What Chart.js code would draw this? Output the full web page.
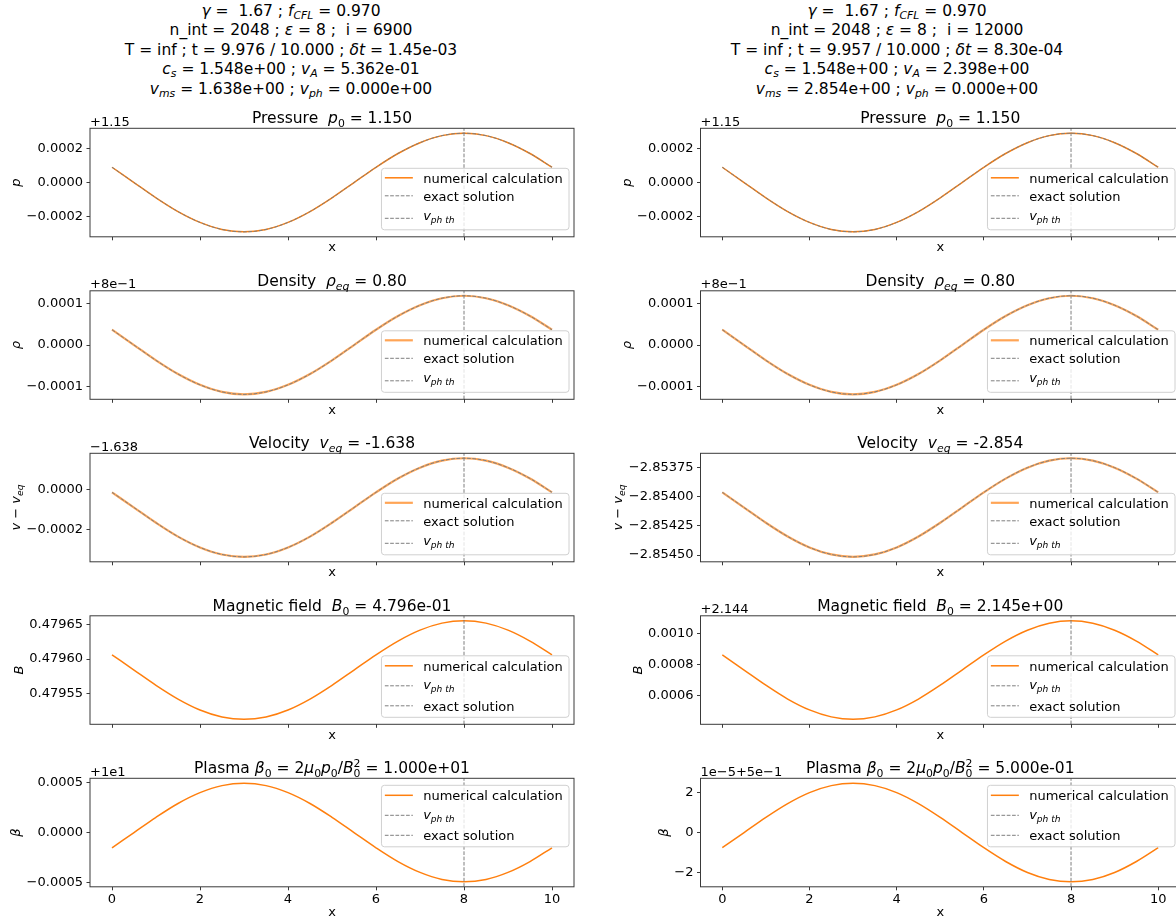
<!DOCTYPE html>
<html lang="en">
<head>
<meta charset="UTF-8">
<title>Linear wave test</title>
<script src="https://cdn.jsdelivr.net/npm/chart.js"></script>
<style>
  body { margin: 0; width: 1176px; height: 917px; overflow: hidden; position: relative; background: #fff; font-family: "DejaVu Sans", sans-serif; }
  .head { position: absolute; top: 2px; width: 600px; text-align: center; font-size: 15.5px; line-height: 19.4px; color: #000; white-space: pre; }
  .head sub { font-size: 70%; vertical-align: -0.28em; line-height: 0; }
  canvas { position: absolute; }
</style>
</head>
<body>
<div class="head" style="left:-9px"><i>γ</i> =  1.67 ; <i>f</i><sub><i>CFL</i></sub> = 0.970
n_int = 2048 ; <i>ε</i> = 8 ;  i = 6900
T = inf ; t = 9.976 / 10.000 ; <i>δt</i> = 1.45e-03
<i>c</i><sub><i>s</i></sub> = 1.548e+00 ; <i>v</i><sub><i>A</i></sub> = 5.362e-01
<i>v</i><sub><i>ms</i></sub> = 1.638e+00 ; <i>v</i><sub><i>ph</i></sub> = 0.000e+00</div>
<div class="head" style="left:597px"><i>γ</i> =  1.67 ; <i>f</i><sub><i>CFL</i></sub> = 0.970
n_int = 2048 ; <i>ε</i> = 8 ;  i = 12000
T = inf ; t = 9.957 / 10.000 ; <i>δt</i> = 8.30e-04
<i>c</i><sub><i>s</i></sub> = 1.548e+00 ; <i>v</i><sub><i>A</i></sub> = 2.398e+00
<i>v</i><sub><i>ms</i></sub> = 2.854e+00 ; <i>v</i><sub><i>ph</i></sub> = 0.000e+00</div>

<script>
// x samples and ticks
const xValues = [0, 0.5, 1, 1.5, 2, 2.5, 3, 3.5, 4, 4.5, 5, 5.5, 6, 6.5, 7, 7.5, 8, 8.5, 9, 9.5, 10];
const xTicks = [0, 2, 4, 6, 8, 10];
const vPhTh = 8;

// values (deviation from the offset shown above each axis)
const pressureLeft = [0.000089, 0, -0.000089, -0.000169, -0.000232, -0.000273, -0.000287, -0.000273, -0.000232, -0.000169, -0.000089, 0, 0.000089, 0.000169, 0.000232, 0.000273, 0.000287, 0.000273, 0.000232, 0.000169, 0.000089];
const pressureRight = [0.000089, 0, -0.000089, -0.000169, -0.000232, -0.000273, -0.000287, -0.000273, -0.000232, -0.000169, -0.000089, 0, 0.000089, 0.000169, 0.000232, 0.000273, 0.000287, 0.000273, 0.000232, 0.000169, 0.000089];
const densityLeft = [0.000037, 0, -0.000037, -0.00007, -0.000096, -0.000113, -0.000119, -0.000113, -0.000096, -0.00007, -0.000037, 0, 0.000037, 0.00007, 0.000096, 0.000113, 0.000119, 0.000113, 0.000096, 0.00007, 0.000037];
const densityRight = [0.000037, 0, -0.000037, -0.00007, -0.000096, -0.000113, -0.000119, -0.000113, -0.000096, -0.00007, -0.000037, 0, 0.000037, 0.00007, 0.000096, 0.000113, 0.000119, 0.000113, 0.000096, 0.00007, 0.000037];
const velocityLeft = [-0.000015, -0.000091, -0.000167, -0.000236, -0.00029, -0.000325, -0.000337, -0.000325, -0.00029, -0.000236, -0.000167, -0.000091, -0.000015, 0.000054, 0.000108, 0.000143, 0.000155, 0.000143, 0.000108, 0.000054, -0.000015];
const velocityRight = [-2.853961, -2.854092, -2.854223, -2.854341, -2.854435, -2.854495, -2.854516, -2.854495, -2.854435, -2.854341, -2.854223, -2.854092, -2.853961, -2.853843, -2.853749, -2.853689, -2.853668, -2.853689, -2.853749, -2.853843, -2.853961];
const magneticLeft = [0.4796062, 0.479584, 0.4795618, 0.4795418, 0.4795259, 0.4795157, 0.4795122, 0.4795157, 0.4795259, 0.4795418, 0.4795618, 0.479584, 0.4796062, 0.4796262, 0.4796421, 0.4796523, 0.4796558, 0.4796523, 0.4796421, 0.4796262, 0.4796062];
const magneticRight = [0.00086, 0.000762, 0.000664, 0.000575, 0.000505, 0.00046, 0.000444, 0.00046, 0.000505, 0.000575, 0.000664, 0.000762, 0.00086, 0.000949, 0.001019, 0.001064, 0.00108, 0.001064, 0.001019, 0.000949, 0.00086];
const betaLeft = [-0.000153, 0, 0.000153, 0.000292, 0.000401, 0.000472, 0.000496, 0.000472, 0.000401, 0.000292, 0.000153, 0, -0.000153, -0.000292, -0.000401, -0.000472, -0.000496, -0.000472, -0.000401, -0.000292, -0.000153];
const betaRight = [-0.76, 0, 0.76, 1.45, 2.0, 2.35, 2.47, 2.35, 2.0, 1.45, 0.76, 0, -0.76, -1.45, -2.0, -2.35, -2.47, -2.35, -2.0, -1.45, -0.76];

// y tick values
const pressureTicks = [-0.0002, 0, 0.0002];
const densityTicks = [-0.0001, 0, 0.0001];
const velocityTicksLeft = [-0.0002, 0];
const velocityTicksRight = [-2.8545, -2.85425, -2.854, -2.85375];
const magneticTicksLeft = [0.47955, 0.4796, 0.47965];
const magneticTicksRight = [0.0006, 0.0008, 0.001];
const betaTicksLeft = [-0.0005, 0, 0.0005];
const betaTicksRight = [-2, 0, 2];

const FONT = '"DejaVu Sans", sans-serif';
const ORANGE = '#ff7f0e';
const GREY = '#7f7f7f';
const AXIS = '#3a3a3a';
const DASH = [3.7, 1.6];

const COLS = [
  { left: 0, width: 590, plotLeft: 90, plotRight: 574 },
  { left: 590, width: 600, plotLeft: 700.5, plotRight: 1180 }
];
const ROW_TOP0 = 128.3, ROW_STEP = 162.5, PLOT_H = 108.5;

const ttl = {
  p: [{t: 'Pressure  '}, {t: 'p', i: 1}, {t: '0', sub: 1}, {t: ' = 1.150'}],
  rho: [{t: 'Density  '}, {t: 'ρ', i: 1}, {t: 'eq', i: 1, sub: 1}, {t: ' = 0.80'}],
  v: s => [{t: 'Velocity  '}, {t: 'v', i: 1}, {t: 'eq', i: 1, sub: 1}, {t: ' = ' + s}],
  b: s => [{t: 'Magnetic field  '}, {t: 'B', i: 1}, {t: '0', sub: 1}, {t: ' = ' + s}],
  beta: s => [{t: 'Plasma '}, {t: 'β', i: 1}, {t: '0', sub: 1}, {t: ' = 2'}, {t: 'μ', i: 1}, {t: '0', sub: 1},
    {t: 'p', i: 1}, {t: '0', sub: 1}, {t: '/'}, {t: 'B', i: 1}, {t: '0', sub: 1, sup: '2'}, {t: ' = ' + s}]
};
const ylab = {
  p: [{t: 'p', i: 1}],
  rho: [{t: 'ρ', i: 1}],
  v: [{t: 'v', i: 1}, {t: ' − '}, {t: 'v', i: 1}, {t: 'eq', i: 1, sub: 1}],
  b: [{t: 'B', i: 1}],
  beta: [{t: 'β', i: 1}]
};
const ORDER_A = ['num', 'exact', 'vph'];
const ORDER_B = ['num', 'vph', 'exact'];

const panels = [
  {col: 0, row: 0, title: ttl.p, offset: '+1.15', ylabel: ylab.p, y: pressureLeft, exact: pressureLeft, ticks: pressureTicks, dec: 4, legend: 'lower', order: ORDER_A, soft: false},
  {col: 1, row: 0, title: ttl.p, offset: '+1.15', ylabel: ylab.p, y: pressureRight, exact: pressureRight, ticks: pressureTicks, dec: 4, legend: 'lower', order: ORDER_A, soft: false},
  {col: 0, row: 1, title: ttl.rho, offset: '+8e−1', ylabel: ylab.rho, y: densityLeft, exact: densityLeft, ticks: densityTicks, dec: 4, legend: 'lower', order: ORDER_A, soft: true},
  {col: 1, row: 1, title: ttl.rho, offset: '+8e−1', ylabel: ylab.rho, y: densityRight, exact: densityRight, ticks: densityTicks, dec: 4, legend: 'lower', order: ORDER_A, soft: true},
  {col: 0, row: 2, title: ttl.v('-1.638'), offset: '−1.638', ylabel: ylab.v, y: velocityLeft, exact: velocityLeft, ticks: velocityTicksLeft, dec: 4, legend: 'lower', order: ORDER_A, soft: true},
  {col: 1, row: 2, title: ttl.v('-2.854'), offset: '', ylabel: ylab.v, y: velocityRight, exact: velocityRight, ticks: velocityTicksRight, dec: 5, legend: 'lower', order: ORDER_A, soft: true},
  {col: 0, row: 3, title: ttl.b('4.796e-01'), offset: '', ylabel: ylab.b, y: magneticLeft, exact: [], ticks: magneticTicksLeft, dec: 5, legend: 'lower', order: ORDER_B, soft: false},
  {col: 1, row: 3, title: ttl.b('2.145e+00'), offset: '+2.144', ylabel: ylab.b, y: magneticRight, exact: [], ticks: magneticTicksRight, dec: 4, legend: 'lower', order: ORDER_B, soft: false},
  {col: 0, row: 4, title: ttl.beta('1.000e+01'), offset: '+1e1', ylabel: ylab.beta, y: betaLeft, exact: [], ticks: betaTicksLeft, dec: 4, legend: 'upper', order: ORDER_B, soft: false},
  {col: 1, row: 4, title: ttl.beta('5.000e-01'), offset: '1e−5+5e−1', ylabel: ylab.beta, y: betaRight, exact: [], ticks: betaTicksRight, dec: 0, legend: 'upper', order: ORDER_B, soft: false}
];

function segFont(s, size) {
  const sz = (s.sub || s.sup) ? size * 0.7 : size;
  return (s.i ? 'italic ' : '') + sz + 'px ' + FONT;
}
function segWidth(ctx, s, size) {
  ctx.font = segFont(s, size);
  let w = ctx.measureText(s.t).width;
  if (s.sup) w = Math.max(w, ctx.measureText(s.sup).width);
  return w;
}
function drawRich(ctx, segs, x, y, size, align) {
  let w = 0;
  segs.forEach(s => { w += segWidth(ctx, s, size); });
  let cx = align === 'center' ? x - w / 2 : align === 'right' ? x - w : x;
  ctx.textAlign = 'left';
  ctx.textBaseline = 'alphabetic';
  segs.forEach(s => {
    ctx.font = segFont(s, size);
    const dy = s.sub ? size * 0.24 : 0;
    ctx.fillText(s.t, cx, y + dy);
    if (s.sup) ctx.fillText(s.sup, cx, y - size * 0.42);
    cx += segWidth(ctx, s, size);
  });
}

function fmt(v, dec) {
  let s = (Math.abs(v) < 1e-12 ? 0 : v).toFixed(dec);
  return s.replace('-', '−');
}

function decor(p) {
  return {
    id: 'decor',
    afterDraw(chart) {
      const a = chart.chartArea, ctx = chart.ctx;
      ctx.save();
      ctx.strokeStyle = AXIS;
      ctx.lineWidth = 1;
      ctx.strokeRect(a.left, a.top, a.right - a.left, a.bottom - a.top);
      ctx.fillStyle = '#000';
      const cx = (a.left + a.right) / 2;
      drawRich(ctx, p.title, cx, a.top - 5, 15.5, 'center');
      if (p.offset) drawRich(ctx, [{t: p.offset}], a.left, a.top - 2.5, 13, 'left');
      drawRich(ctx, [{t: 'x'}], cx, a.bottom + (p.row === 4 ? 29 : 14.5), 13, 'center');

      // y label, left of the widest tick label
      ctx.font = '13px ' + FONT;
      let maxW = 0;
      p.ticks.forEach(v => { maxW = Math.max(maxW, ctx.measureText(fmt(v, p.dec)).width); });
      const tickLeft = a.left - 7 - maxW;
      ctx.save();
      ctx.translate(tickLeft - 6.5, (a.top + a.bottom) / 2);
      ctx.rotate(-Math.PI / 2);
      drawRich(ctx, p.ylabel, 0, 0, 13, 'center');
      ctx.restore();

      // legend
      const byKey = {};
      chart.data.datasets.forEach(d => { byKey[d.key] = d; });
      const labels = {
        num: [{t: 'numerical calculation'}],
        exact: [{t: 'exact solution'}],
        vph: [{t: 'v', i: 1}, {t: 'ph th', i: 1, sub: 1}]
      };
      let tw = 0;
      p.order.forEach(k => {
        let w = 0;
        labels[k].forEach(s => { w += segWidth(ctx, s, 13); });
        tw = Math.max(tw, w);
      });
      const bw = 3.4 + 28 + 10.3 + tw + 6.3, bh = 61.5;
      const bx = a.right - 5 - bw;
      const by = p.legend === 'lower' ? a.bottom - 7 - bh : a.top + 7;
      ctx.beginPath();
      ctx.roundRect(bx, by, bw, bh, 3);
      ctx.fillStyle = 'rgba(255,255,255,0.8)';
      ctx.fill();
      ctx.strokeStyle = '#d0d0d0';
      ctx.lineWidth = 1;
      ctx.stroke();
      const rowsY = p.order === ORDER_A ? [9.5, 27.5, 50] : [10, 30, 50];
      p.order.forEach((k, i) => {
        const d = byKey[k];
        const yy = by + rowsY[i];
        ctx.save();
        ctx.strokeStyle = d.borderColor;
        ctx.lineWidth = d.borderWidth;
        ctx.setLineDash(d.borderDash || []);
        ctx.beginPath();
        ctx.moveTo(bx + 3.4, yy);
        ctx.lineTo(bx + 31.4, yy);
        ctx.stroke();
        ctx.restore();
        ctx.fillStyle = '#000';
        const base = k === 'vph' ? yy + (p.order === ORDER_A ? 1.5 : 3.5) : yy + 4.7;
        drawRich(ctx, labels[k], bx + 41.7, base, 13, 'left');
      });
      ctx.restore();
    }
  };
}

Chart.defaults.font.family = FONT;
Chart.defaults.font.size = 13;
Chart.defaults.color = '#000';

panels.forEach(p => {
  const col = COLS[p.col];
  const plotTop = ROW_TOP0 + ROW_STEP * p.row;
  const cTop = Math.floor(plotTop) - 45;
  const padTop = plotTop - cTop;
  const cH = 190;
  const xAxisH = cH - padTop - PLOT_H;

  const canvas = document.createElement('canvas');
  canvas.width = col.width;
  canvas.height = cH;
  canvas.style.left = col.left + 'px';
  canvas.style.top = cTop + 'px';
  document.body.appendChild(canvas);

  let lo = Math.min(...p.y), hi = Math.max(...p.y);
  const m = (hi - lo) * 0.05;
  lo -= m; hi += m;

  const pts = arr => arr.map((v, i) => ({x: xValues[i], y: v}));

  new Chart(canvas, {
    type: 'line',
    data: {
      datasets: [
        {key: 'num', label: 'numerical calculation', data: pts(p.y),
         borderColor: p.soft ? 'rgba(255,127,14,0.7)' : ORANGE, borderWidth: p.soft ? 2.2 : 1.5,
         pointRadius: 0, cubicInterpolationMode: 'monotone', order: 3},
        {key: 'exact', label: 'exact solution', data: pts(p.exact),
         borderColor: GREY, borderWidth: 1, borderDash: DASH,
         pointRadius: 0, cubicInterpolationMode: 'monotone', order: 2},
        {key: 'vph', label: 'v_ph th', data: [{x: vPhTh, y: lo}, {x: vPhTh, y: hi}],
         borderColor: GREY, borderWidth: 1, borderDash: DASH, pointRadius: 0, order: 1}
      ]
    },
    options: {
      responsive: false,
      animation: false,
      events: [],
      layout: {padding: {left: 0, right: col.width - (col.plotRight - col.left), top: padTop, bottom: 0}},
      plugins: {legend: {display: false}, tooltip: {enabled: false}, title: {display: false}},
      scales: {
        x: {
          type: 'linear', min: -0.5, max: 10.5,
          afterFit(s) { s.height = xAxisH; },
          afterBuildTicks(s) { s.ticks = xTicks.map(v => ({value: v})); },
          grid: {drawOnChartArea: false, drawTicks: true, tickLength: 3.5, color: AXIS},
          border: {display: false},
          ticks: {display: p.row === 4, padding: 2, maxRotation: 0, autoSkip: false, color: '#000',
                  callback: v => String(v)}
        },
        y: {
          type: 'linear', min: lo, max: hi,
          afterFit(s) { s.width = col.plotLeft - col.left; },
          afterBuildTicks(s) { s.ticks = p.ticks.map(v => ({value: v})); },
          grid: {drawOnChartArea: false, drawTicks: true, tickLength: 3.5, color: AXIS},
          border: {display: false},
          ticks: {padding: 3.5, autoSkip: false, color: '#000', callback: v => fmt(v, p.dec)}
        }
      }
    },
    plugins: [decor(p)]
  });
});
</script>
</body>
</html>
